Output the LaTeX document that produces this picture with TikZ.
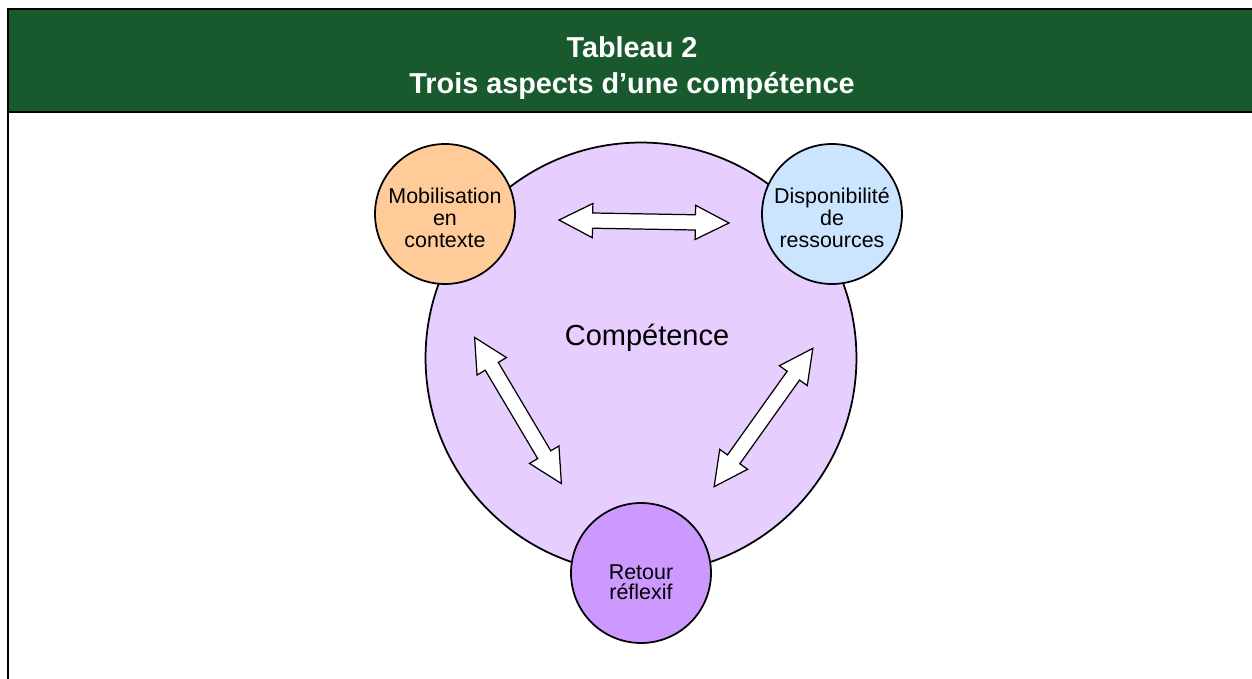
\documentclass[tikz,border=0pt]{standalone}
\usepackage{fontspec}
\setmainfont{Liberation Sans}
\usetikzlibrary{shapes.arrows}

\definecolor{headgreen}{RGB}{24,90,45}
\definecolor{compfill}{RGB}{230,206,255}
\definecolor{mobfill}{RGB}{255,204,153}
\definecolor{dispfill}{RGB}{204,229,255}
\definecolor{retfill}{RGB}{204,153,255}

\begin{document}
\begin{tikzpicture}[
	x=0.02cm, y=0.02cm,
	aspect/.style={
		circle,
		draw,
		line width=1pt,
		inner sep=0pt,
		minimum size=2.8cm
	},
	aspecttext/.style={% text inside the small circles
		align=center,
		inner sep=0pt,
		font=\fontsize{12.2}{12.5}\selectfont
	},
	BlockArrow/.style={% white double block arrows
		double arrow,
		draw,
		fill=white,
		line width=0.7pt,
		inner xsep=0pt,
		inner ysep=0.14cm,
		double arrow head extend=0.19cm,
		double arrow tip angle=54,
		minimum height=3.4cm,
		minimum width=0.66cm
	},
]
	\useasboundingbox (0,0) rectangle (1252,-679);

	% header band and frame
	\fill [headgreen] (8,-9) rectangle (1252,-112);
	\draw [line width=1.4pt] (1252,-9) -- (8,-9) -- (8,-679);
	\draw [line width=1.4pt] (8,-112) -- (1252,-112);
	\node [text=white, font=\fontsize{16.4}{21}\selectfont\bfseries, align=center] (title) at (632,-68) {Tableau 2\\Trois aspects d’une compétence};

	\node [circle, draw, line width=1pt, fill=compfill, minimum size=8.62cm] (comp) at (641,-358) {};
	\node [font=\fontsize{16.5}{20}\selectfont] (complbl) at (647,-338) {Compétence};

	\node [aspect, fill=mobfill, label={[aspecttext, yshift=-2.3pt]center:Mobilisation\\en\\contexte}] (mob) at (445,-214) {};
	\node [aspect, fill=dispfill, label={[aspecttext, yshift=-2.3pt]center:Disponibilité\\de\\ressources}] (disp) at (832,-214) {};
	\node [aspect, fill=retfill, label={[aspecttext, yshift=-5.2pt, font=\fontsize{12.2}{11.5}\selectfont]center:Retour\\réflexif}] (ret) at (641,-573) {};

	\node [BlockArrow, rotate=-1] (a1) at (644,-221.5) {};
	\node [BlockArrow, rotate=-59.3] (a2) at (518,-410.5) {};
	\node [BlockArrow, rotate=54.5] (a3) at (763.5,-417.5) {};
\end{tikzpicture}
\end{document}
